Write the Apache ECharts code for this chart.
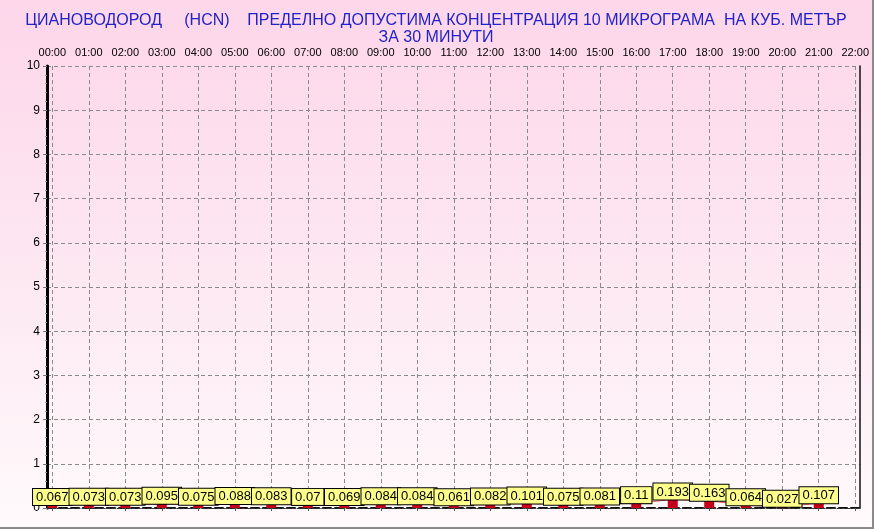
<!DOCTYPE html>
<html>
<head>
<meta charset="utf-8">
<script src="https://cdn.jsdelivr.net/npm/echarts@6/dist/echarts.min.js"></script>
<style>
  html, body { margin: 0; padding: 0; }
  #chart {
    width: 872px;
    height: 527px;
    border-right: 2px solid #8a8a8a;
    border-bottom: 2px solid #8a8a8a;
    background: linear-gradient(to bottom, #fdd6ea 0%, #fde9f2 55%, #fffafc 100%);
  }
</style>
</head>
<body>
<div id="chart"></div>
<script>
// часове по оста X
const hours = ["00:00", "01:00", "02:00", "03:00", "04:00", "05:00", "06:00", "07:00",
  "08:00", "09:00", "10:00", "11:00", "12:00", "13:00", "14:00", "15:00", "16:00",
  "17:00", "18:00", "19:00", "20:00", "21:00", "22:00"];
// измерени стойности HCN
const values = [0.067, 0.073, 0.073, 0.095, 0.075, 0.088, 0.083, 0.07, 0.069, 0.084,
  0.084, 0.061, 0.082, 0.101, 0.075, 0.081, 0.11, 0.193, 0.163, 0.064, 0.027, 0.107];
const yTicks = [0, 1, 2, 3, 4, 5, 6, 7, 8, 9, 10];

const hourIdx = hours.map((h, i) => i);
const points = values.map((v, i) => [i, v]);

const myChart = echarts.init(document.getElementById("chart"));
const font = "Liberation Sans, Arial, sans-serif";

const option = {
  animation: false,
  title: {
    text: "ЦИАНОВОДОРОД     (HCN)    ПРЕДЕЛНО ДОПУСТИМА КОНЦЕНТРАЦИЯ 10 МИКРОГРАМА  НА КУБ. МЕТЪР\nЗА 30 МИНУТИ",
    left: "center",
    top: 7,
    textStyle: {
      color: "#2222c8",
      fontSize: 16,
      fontWeight: "normal",
      fontFamily: font,
      lineHeight: 17,
      align: "center",
    },
  },
  grid: { left: 47, right: 7, top: 66, bottom: 19 },
  xAxis: [
    {
      type: "value",
      position: "top",
      min: -0.145,
      max: 22.13,
      axisLine: { show: true, lineStyle: { color: "#111", width: 2, type: "dashed" } },
      axisTick: { show: true, customValues: hourIdx, length: 3, inside: true, lineStyle: { color: "#555" } },
      axisLabel: {
        customValues: hourIdx,
        formatter: (v) => hours[Math.round(v)],
        color: "#000",
        fontSize: 11,
        fontFamily: font,
        margin: 8,
      },
      splitLine: { show: true, lineStyle: { color: "#8a8a8a", type: [4, 3], width: 1 } },
    },
    {
      type: "value",
      position: "bottom",
      min: -0.145,
      max: 22.13,
      axisLine: { show: true, lineStyle: { color: "#333", width: 1, type: [3, 2] } },
      axisTick: { show: false },
      axisLabel: { show: false },
      splitLine: { show: false },
    },
  ],
  yAxis: [
    {
      type: "value",
      min: 0,
      max: 10,
      interval: 1,
      axisLine: { show: true, onZero: false, lineStyle: { color: "#000", width: 3 } },
      axisTick: { show: true, length: 4, lineStyle: { color: "#777" } },
      minorTick: { show: true, splitNumber: 5, length: 2, lineStyle: { color: "#999" } },
      axisLabel: {
        color: "#000",
        fontSize: 12,
        fontFamily: font,
        margin: 7,
        formatter: (v) => String(yTicks[v] ?? v),
      },
      splitLine: { show: true, lineStyle: { color: "#8a8a8a", type: [4, 3], width: 1 } },
    },
    {
      type: "value",
      position: "right",
      min: 0,
      max: 10,
      interval: 1,
      axisLine: { show: true, onZero: false, lineStyle: { color: "#111", width: 1.5 } },
      axisTick: { show: false },
      axisLabel: { show: false },
      splitLine: { show: false },
    },
  ],
  series: [
    {
      type: "line",
      data: points,
      symbol: "none",
      silent: true,
      lineStyle: { color: "#e05050", width: 1 },
      z: 2,
    },
    {
      type: "bar",
      data: points,
      barWidth: 10,
      itemStyle: { color: "#c4001a" },
      z: 3,
      label: {
        show: true,
        position: "top",
        distance: 0,
        color: "#000",
        fontSize: 13,
        fontFamily: font,
        backgroundColor: "#ffff8c",
        borderColor: "#000",
        borderWidth: 1,
        padding: [2, 3, 1, 3],
        formatter: (p) => String(p.value[1]),
      },
    },
  ],
};
myChart.setOption(option);
window.addEventListener("resize", function () {
  myChart.resize();
});
</script>
</body>
</html>
